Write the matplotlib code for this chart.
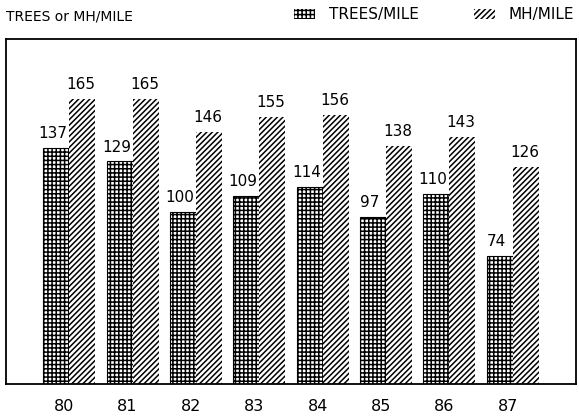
import numpy as np
import matplotlib
matplotlib.use("Agg")
from matplotlib import pyplot as plt
from matplotlib.patches import Patch

# data
years = ['80', '81', '82', '83', '84', '85', '86', '87']
trees_per_mile = [137, 129, 100, 109, 114, 97, 110, 74]
mh_per_mile = [165, 165, 146, 155, 156, 138, 143, 126]

plt.rcParams['font.family'] = ['DejaVu Sans']
plt.rcParams['hatch.linewidth'] = 1.1

fig = plt.figure(figsize=(5.79, 4.17), dpi=100)
ax = fig.add_axes([6 / 579, 1 - 384 / 417, 570 / 579, 345 / 417])

x = np.arange(len(years))
w = 0.41

trees_bars = ax.bar(x - w / 2, trees_per_mile, w, color='white', edgecolor='black',
                    linewidth=0.8, hatch='++++')
mh_bars = ax.bar(x + w / 2, mh_per_mile, w, color='white', edgecolor='black',
                 linewidth=0, hatch='//////')

# value labels above each bar
for xi, v in zip(x - w / 2, trees_per_mile):
    ax.text(xi - 0.05, v + 4, str(v), ha='center', va='bottom', fontsize=11)
for xi, v in zip(x + w / 2, mh_per_mile):
    ax.text(xi - 0.02, v + 4, str(v), ha='center', va='bottom', fontsize=11)

ax.set_xlim(-1.0, 8.0)
ax.set_ylim(0, 200)
ax.set_yticks([])
ax.set_xticks(x - 0.08)
ax.set_xticklabels(years, fontsize=11.5)
ax.tick_params(axis='x', length=0, pad=11)
for s in ax.spines.values():
    s.set_linewidth(1.3)

fig.text(6 / 579, 1 - 16 / 417, 'TREES or MH/MILE', ha='left', va='center', fontsize=10)

handles = [Patch(facecolor='white', edgecolor='black', linewidth=0, hatch='++++', label='TREES/MILE'),
           Patch(facecolor='white', edgecolor='black', linewidth=0, hatch='//////', label='MH/MILE')]
fig.legend(handles=handles, loc='center right', bbox_to_anchor=(1.0, 1 - 15 / 417), ncol=2,
           frameon=False, fontsize=11, handlelength=1.4, handleheight=0.6,
           handletextpad=0.9, columnspacing=3.6, borderpad=0.2, borderaxespad=0.1)

fig.savefig('out.png', dpi=100)
